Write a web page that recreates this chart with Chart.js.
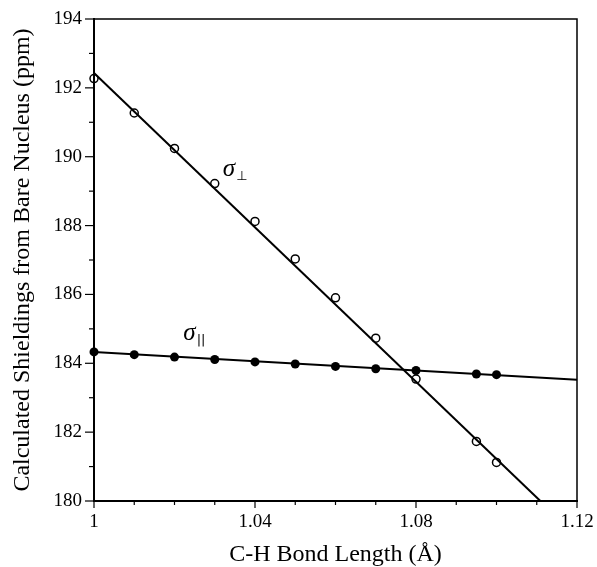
<!DOCTYPE html>
<html>
<head>
<meta charset="utf-8">
<script src="https://cdn.jsdelivr.net/npm/chart.js@4/dist/chart.umd.min.js"></script>
<style>
  html, body { margin: 0; padding: 0; background: #fff; }
  #wrap { width: 597px; height: 567px; }
</style>
</head>
<body>
<div id="wrap"><canvas id="myChart" width="597" height="567"></canvas></div>
<script>
// bond lengths (Å) where shieldings were calculated
var bondLengths = [1.00, 1.01, 1.02, 1.03, 1.04, 1.05, 1.06, 1.07, 1.08, 1.095, 1.10];
// sigma perpendicular (open circles)
var sigmaPerp = [192.27, 191.27, 190.24, 189.22, 188.12, 187.03, 185.90, 184.73, 183.54, 181.73, 181.12];
// sigma parallel (filled circles)
var sigmaPar = [184.33, 184.25, 184.18, 184.11, 184.04, 183.98, 183.91, 183.84, 183.79, 183.69, 183.67];

// straight fit lines, end points
var perpFitX = [1.00, 1.1109];
var perpFitY = [192.43, 180.0];
var parFitX = [1.00, 1.12];
var parFitY = [184.33, 183.52];

// axis ticks
var xMajorTicks = [1, 1.04, 1.08, 1.12];
var yMajorTicks = [180, 182, 184, 186, 188, 190, 192, 194];

// curve labels
var curveLabels = [
    { text: 'σ', sub: '⊥', x: 1.032, y: 189.43 },
    { text: 'σ', sub: '||', x: 1.0222, y: 184.68 }
];

function toPoints(xs, ys) {
    return xs.map(function (x, i) { return { x: x, y: ys[i] }; });
}

function isXMajor(v) {
    return xMajorTicks.some(function (t) { return Math.abs(t - v) < 1e-6; });
}

var serif = '"Liberation Serif", "Times New Roman", serif';

// frame, ticks and sigma labels
var extras = {
    id: 'extras',
    afterDraw: function (chart) {
        var ctx = chart.ctx;
        var a = chart.chartArea;
        var xs = chart.scales.x;
        var ys = chart.scales.y;
        ctx.save();
        ctx.strokeStyle = '#000';

        // top and right sides of the box
        ctx.lineWidth = 1.5;
        ctx.beginPath();
        ctx.moveTo(a.left, a.top);
        ctx.lineTo(a.right, a.top);
        ctx.lineTo(a.right, a.bottom);
        ctx.stroke();

        ctx.lineWidth = 1.2;
        xs.ticks.forEach(function (t) {
            var px = xs.getPixelForValue(t.value);
            var len = isXMajor(t.value) ? 7 : 4;
            ctx.beginPath();
            ctx.moveTo(px, a.bottom);
            ctx.lineTo(px, a.bottom + len);
            ctx.stroke();
        });
        ys.ticks.forEach(function (t) {
            var py = ys.getPixelForValue(t.value);
            var len = yMajorTicks.indexOf(Math.round(t.value)) >= 0 ? 9 : 5;
            ctx.beginPath();
            ctx.moveTo(a.left, py);
            ctx.lineTo(a.left - len, py);
            ctx.stroke();
        });

        ctx.fillStyle = '#000';
        ctx.textBaseline = 'alphabetic';
        curveLabels.forEach(function (l) {
            var px = xs.getPixelForValue(l.x);
            var py = ys.getPixelForValue(l.y);
            ctx.font = 'italic 25px ' + serif;
            ctx.fillText(l.text, px, py);
            var w = ctx.measureText(l.text).width;
            ctx.font = '13px "DejaVu Sans", sans-serif';
            ctx.fillText(l.sub, px + w + 1, py + 4);
        });
        ctx.restore();
    }
};

var ctx = document.getElementById('myChart').getContext('2d');

var myChart = new Chart(ctx, {
    type: 'scatter',
    data: {
        datasets: [{
            label: 'perp fit',
            data: toPoints(perpFitX, perpFitY),
            showLine: true,
            borderColor: '#000',
            borderWidth: 2,
            pointRadius: 0,
            clip: false
        }, {
            label: 'parallel fit',
            data: toPoints(parFitX, parFitY),
            showLine: true,
            borderColor: '#000',
            borderWidth: 2,
            pointRadius: 0,
            clip: false
        }, {
            label: 'sigma perp',
            data: toPoints(bondLengths, sigmaPerp),
            pointRadius: 4,
            pointBorderWidth: 1.5,
            pointBorderColor: '#000',
            pointBackgroundColor: 'rgba(0,0,0,0)',
            clip: false
        }, {
            label: 'sigma parallel',
            data: toPoints(bondLengths, sigmaPar),
            pointRadius: 4.5,
            pointBorderWidth: 0,
            pointBackgroundColor: '#000',
            clip: false
        }]
    },
    options: {
        responsive: false,
        animation: false,
        layout: { padding: { left: 0, right: 20, top: 19, bottom: 0 } },
        plugins: {
            legend: { display: false },
            tooltip: { enabled: false }
        },
        scales: {
            x: {
                type: 'linear',
                min: 1,
                max: 1.12,
                grid: { display: false, drawTicks: false },
                border: { display: true, color: '#000', width: 2 },
                ticks: {
                    stepSize: 0.01,
                    padding: 10,
                    color: '#000',
                    maxRotation: 0,
                    autoSkip: false,
                    font: { family: serif, size: 19 },
                    callback: function (v) {
                        return isXMajor(v) ? String(Math.round(v * 100) / 100) : '';
                    }
                },
                title: {
                    display: true,
                    text: 'C-H Bond Length (Å)',
                    color: '#000',
                    font: { family: serif, size: 24, lineHeight: 1 },
                    padding: { top: 0, bottom: 0 }
                },
                afterFit: function (scale) {
                    scale.height = 66;
                    scale.paddingLeft = 0;
                    scale.paddingRight = 0;
                }
            },
            y: {
                min: 180,
                max: 194,
                grid: { display: false, drawTicks: false },
                border: { display: true, color: '#000', width: 2 },
                ticks: {
                    stepSize: 1,
                    padding: 12,
                    color: '#000',
                    autoSkip: false,
                    font: { family: serif, size: 19 },
                    callback: function (v) {
                        return yMajorTicks.indexOf(Math.round(v)) >= 0 ? String(Math.round(v)) : '';
                    }
                },
                title: {
                    display: true,
                    text: 'Calculated Shieldings from Bare Nucleus (ppm)',
                    color: '#000',
                    font: { family: serif, size: 24, lineHeight: 1 },
                    padding: { top: 11, bottom: 0 }
                },
                afterFit: function (scale) {
                    scale.width = 94;
                    scale.paddingTop = 0;
                    scale.paddingBottom = 0;
                }
            }
        }
    },
    plugins: [extras]
});
</script>
</body>
</html>
